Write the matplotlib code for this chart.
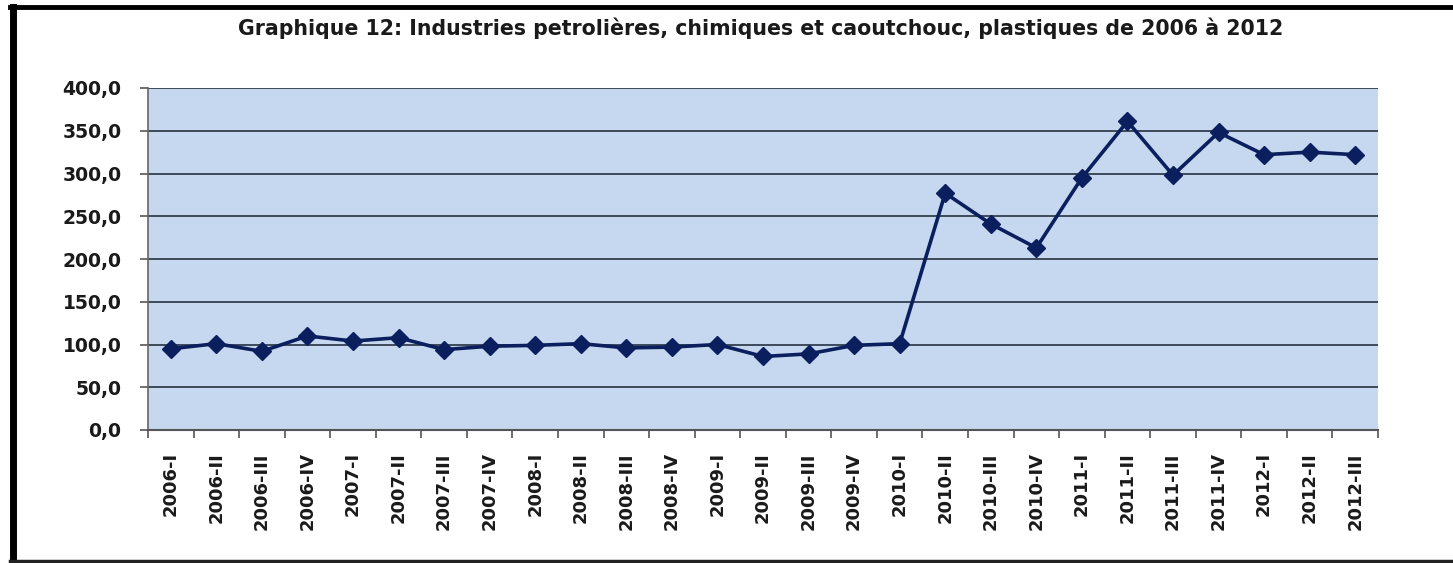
import numpy as np
import matplotlib
matplotlib.use('Agg')
import matplotlib.pyplot as plt
from matplotlib.lines import Line2D

plt.rcParams['font.family'] = ['DejaVu Sans']

# quarters 2006-I .. 2012-III
years = ['2006'] * 4 + ['2007'] * 4 + ['2008'] * 4 + ['2009'] * 4 + ['2010'] * 4 + ['2011'] * 4 + ['2012'] * 3
quarters = ['I', 'II', 'III', 'IV'] * 6 + ['I', 'II', 'III']
labels = [f'{y}-{q}' for y, q in zip(years, quarters)]

values = [95, 101, 92, 110, 104, 108, 94, 98, 99, 101, 96, 97,
          100, 86, 89, 99, 101, 277, 241, 213, 295, 361, 298, 348,
          322, 325, 322]

yticks = [0, 50, 100, 150, 200, 250, 300, 350, 400]

fig = plt.figure(figsize=(14.53, 5.63), dpi=100)
ax = fig.add_axes([148 / 1453, 1 - 430 / 563, 1230 / 1453, 342 / 563])

x = np.arange(len(values))
ax.set_facecolor('#c6d8ef')
ax.plot(x, values, color='#0b1f5e', lw=2.6, marker='D', ms=9.5, mec='#0b1f5e', mfc='#0b1f5e', zorder=3)

ax.set_xlim(-0.5, len(values) - 0.5)
ax.set_ylim(0, 400)
ax.set_yticks(yticks)
ax.set_yticklabels([f'{v:.1f}'.replace('.', ',') for v in yticks], fontsize=13.5, fontweight='bold', color='#1a1a1a')
ax.yaxis.grid(True, color='#3c4a5a', lw=1.4)
ax.set_axisbelow(True)

# category labels centred, tick marks on the boundaries
ax.set_xticks(x)
ax.set_xticklabels(labels, rotation=90, fontsize=13, fontweight='bold', va='top', color='#1a1a1a')
ax.set_xticks(np.arange(-0.5, len(values)), minor=True)
ax.tick_params(axis='x', which='major', length=0, pad=16)
ax.tick_params(axis='x', which='minor', length=6, color='#555555', width=1.2, direction='out')
ax.tick_params(axis='y', length=6, color='#555555', width=1.2, pad=13)

for s in ['top', 'right']:
    ax.spines[s].set_visible(False)
ax.spines['left'].set_color('#666666')
ax.spines['bottom'].set_color('#555555')
ax.spines['left'].set_linewidth(1.2)
ax.spines['bottom'].set_linewidth(1.5)

fig.text(761 / 1453, 1 - 28 / 563,
         'Graphique 12: Industries petrolières, chimiques et caoutchouc, plastiques de 2006 à 2012',
         ha='center', va='center', fontsize=14.8, fontweight='bold', color='#1a1a1a')

# outer frame (top, left, bottom)
fig.add_artist(Line2D([10 / 1453, 1], [1 - 7 / 563, 1 - 7 / 563], color='black', lw=3.5, transform=fig.transFigure))
fig.add_artist(Line2D([13 / 1453, 13 / 1453], [1 - 7 / 563, 1 - 561 / 563], color='black', lw=5, transform=fig.transFigure))
fig.add_artist(Line2D([10 / 1453, 1], [1 - 561 / 563, 1 - 561 / 563], color='#222222', lw=2.5, transform=fig.transFigure))

fig.savefig('out.png', dpi=100)
